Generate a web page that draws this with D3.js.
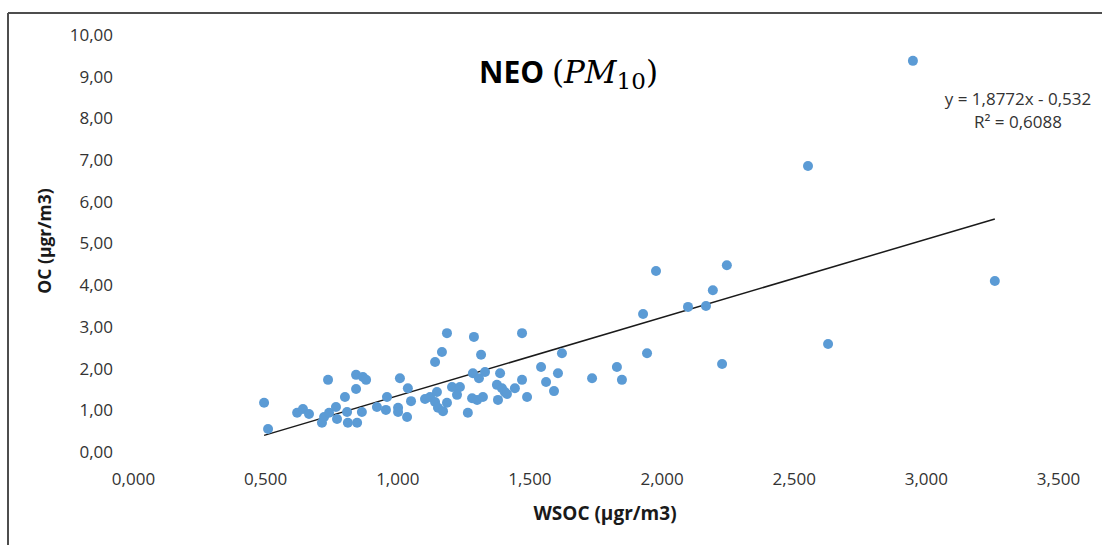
<!DOCTYPE html>
<html>
<head>
<meta charset="utf-8">
<script src="https://cdn.jsdelivr.net/npm/d3@7"></script>
<style>
  body { margin: 0; background: #fff; }
  text { font-family: "Open Sans", sans-serif; }
</style>
</head>
<body>
<div id="chart"></div>
<script>
// WSOC (x) vs OC (y)
var wsoc = [0.496, 0.511, 0.621, 0.643, 0.666, 0.738, 0.715, 0.723, 0.742, 0.768,
  0.772, 0.802, 0.810, 0.813, 0.848, 0.844, 0.844, 0.870, 0.882, 0.866,
  0.923, 0.961, 0.957, 1.010, 1.003, 1.003, 1.040, 1.052, 1.037, 1.105,
  1.124, 1.150, 1.143, 1.154, 1.173, 1.188, 1.207, 1.237, 1.226, 1.267,
  1.286, 1.309, 1.332, 1.302, 1.283, 1.324, 1.389, 1.377, 1.396, 1.407,
  1.381, 1.445, 1.415, 1.472, 1.491, 1.188, 1.290, 1.472, 1.169, 1.317,
  1.143, 1.623, 1.544, 1.608, 1.563, 1.593, 1.737, 1.831, 1.850, 1.945,
  1.930, 1.979, 2.247, 2.194, 2.100, 2.168, 2.229, 2.630, 2.554, 2.951,
  3.261];
var oc = [1.18, 0.55, 0.94, 1.03, 0.91, 1.73, 0.70, 0.84, 0.94, 1.08,
  0.79, 1.32, 0.96, 0.70, 0.70, 1.51, 1.85, 1.80, 1.73, 0.96,
  1.08, 1.32, 1.01, 1.77, 1.06, 0.96, 1.53, 1.22, 0.84, 1.27,
  1.32, 1.44, 1.20, 1.06, 0.98, 1.18, 1.56, 1.56, 1.37, 0.94,
  1.89, 1.77, 1.92, 1.25, 1.29, 1.32, 1.89, 1.61, 1.53, 1.44,
  1.25, 1.53, 1.39, 1.73, 1.32, 2.85, 2.76, 2.85, 2.40, 2.33,
  2.16, 2.37, 2.04, 1.89, 1.68, 1.46, 1.77, 2.04, 1.73, 2.37,
  3.31, 4.34, 4.48, 3.88, 3.48, 3.50, 2.11, 2.59, 6.86, 9.38,
  4.10];

var xTicks = [0, 0.5, 1, 1.5, 2, 2.5, 3, 3.5];
var yTicks = [0, 1, 2, 3, 4, 5, 6, 7, 8, 9, 10];

// linear trend as printed on the chart
var slope = 1.8772, intercept = -0.532, r2 = 0.6088;

var
  w = 1102,
  h = 545,
  x = d3.scaleLinear().domain([0, 3.5]).range([133, 1058]),
  y = d3.scaleLinear().domain([0, 10]).range([452, 35]);

var loc = d3.formatLocale({decimal: ",", thousands: ".", grouping: [3], currency: ["", ""]});

var points = wsoc.map(function(d, i) { return {x: d, y: oc[i]}; });

var chart = d3.select("#chart")
  .append("svg")
  .attr("width", w)
  .attr("height", h)
  .attr("style", "background-color: white;");

// frame of the embedded chart
chart.append("line").attr("x1", 8).attr("x2", w).attr("y1", 13).attr("y2", 13)
  .attr("stroke", "#4d4d4d").attr("stroke-width", 2);
chart.append("line").attr("x1", 8).attr("x2", 8).attr("y1", 13).attr("y2", h)
  .attr("stroke", "#4d4d4d").attr("stroke-width", 2);

var xAxis = d3.axisBottom(x).tickValues(xTicks).tickFormat(loc.format(".3f")).tickSize(0).tickPadding(0);
var yAxis = d3.axisLeft(y).tickValues(yTicks).tickFormat(loc.format(".2f")).tickSize(0).tickPadding(0);

var gx = chart.append("g").attr("transform", "translate(0,473)").call(xAxis);
var gy = chart.append("g").attr("transform", "translate(113,0)").call(yAxis);
[gx, gy].forEach(function(g) {
  g.select(".domain").remove();
  g.selectAll("text")
    .attr("font-family", "'Open Sans', sans-serif")
    .attr("font-size", 17)
    .attr("fill", "#333");
});

chart.append("text")
  .attr("transform", "translate(51,241) rotate(-90)")
  .attr("text-anchor", "middle")
  .attr("font-size", 17.5)
  .attr("font-weight", "bold")
  .attr("fill", "#1a1a1a")
  .text("OC (µgr/m3)");

chart.append("text")
  .attr("x", 605)
  .attr("y", 520)
  .attr("text-anchor", "middle")
  .attr("font-size", 19)
  .attr("font-weight", "bold")
  .attr("fill", "#1a1a1a")
  .text("WSOC (µgr/m3)");

// title: NEO (PM10)
var title = chart.append("text").attr("x", 479).attr("y", 83).attr("fill", "#000");
title.append("tspan").attr("font-size", 30).attr("font-weight", "bold").text("NEO ");
var mathFont = "'DejaVu Serif', serif";
title.append("tspan").attr("font-family", mathFont).attr("font-size", 31).text("(");
title.append("tspan").attr("font-family", mathFont).attr("font-size", 31).attr("font-style", "italic").text("PM");
title.append("tspan").attr("font-family", mathFont).attr("font-size", 23).attr("dy", 6).text("10");
title.append("tspan").attr("font-family", mathFont).attr("font-size", 31).attr("dy", -6).text(")");

// trendline
var xr = d3.extent(wsoc);
chart.append("line")
  .attr("x1", x(xr[0])).attr("y1", y(slope * xr[0] + intercept))
  .attr("x2", x(xr[1])).attr("y2", y(slope * xr[1] + intercept))
  .attr("stroke", "#1a1a1a")
  .attr("stroke-width", 1.5);

chart.append("g").selectAll("circle")
  .data(points)
  .enter().append("circle")
    .attr("cx", function(d) { return x(d.x); })
    .attr("cy", function(d) { return y(d.y); })
    .attr("r", 5)
    .attr("fill", "#5b9bd5");

var eq = chart.append("text")
  .attr("text-anchor", "middle")
  .attr("font-size", 17)
  .attr("fill", "#333");
eq.append("tspan").attr("x", 1018).attr("y", 105)
  .text("y = " + loc.format(".4f")(slope) + "x - " + loc.format(".3f")(-intercept));
eq.append("tspan").attr("x", 1018).attr("y", 128)
  .text("R² = " + loc.format(".4f")(r2));
</script>
</body>
</html>
